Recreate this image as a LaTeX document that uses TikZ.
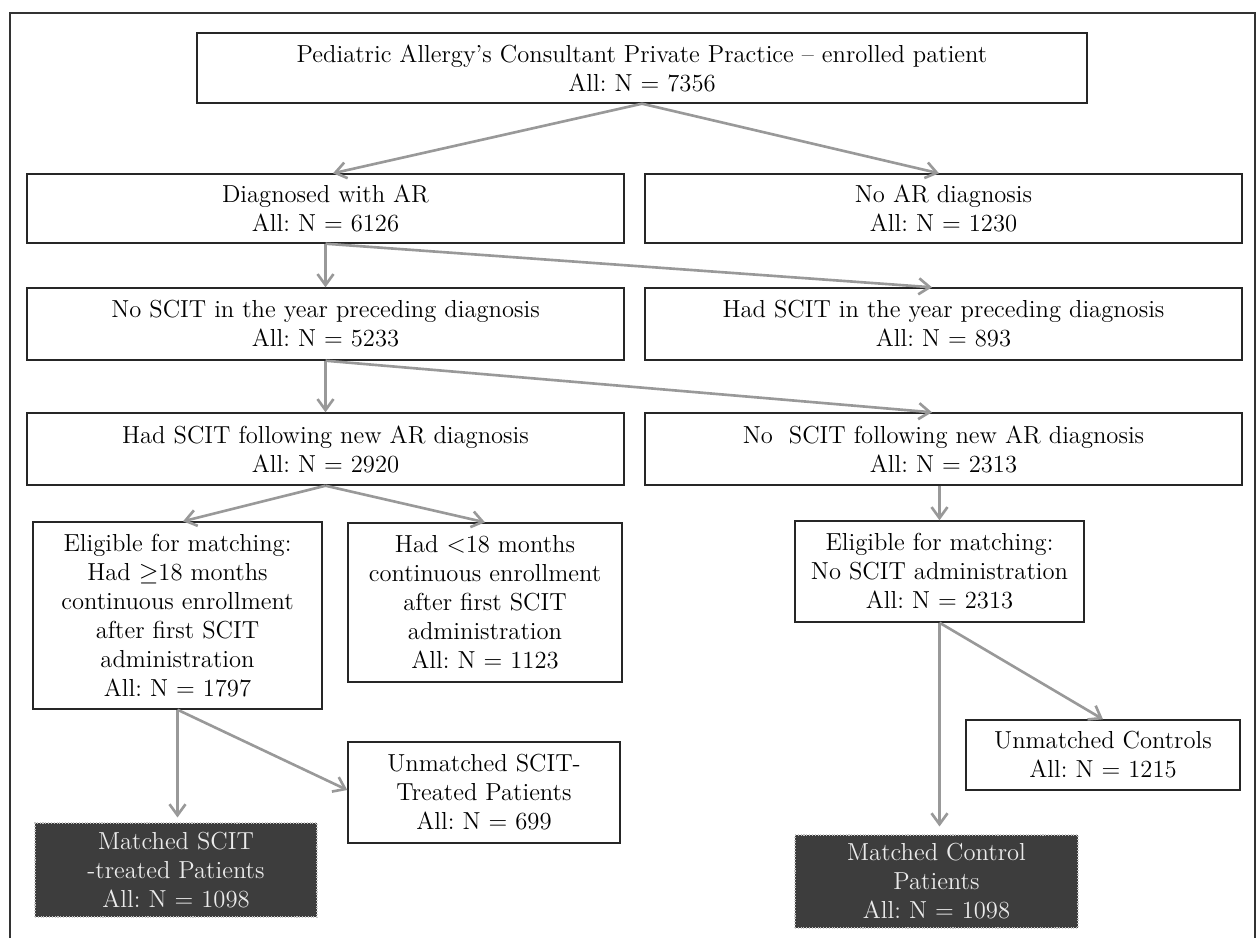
\documentclass[tikz,border=0pt]{standalone}
\usepackage{tikz}
\usetikzlibrary{calc}
\usetikzlibrary{arrows.meta}
\frenchspacing
\tikzset{w/.style={draw=black!85, line width=0.8pt, fill=white, align=center, inner sep=2pt, font=\fontsize{14}{16.5}\selectfont},
        d/.style={draw=gray!45, densely dotted, line width=0.6pt, fill=black!76, text=white!92!black, align=center, inner sep=2pt, font=\fontsize{14}{16.5}\selectfont},
        ar/.style={draw=black!40, line width=1.5pt, -{Straight Barb[length=2.2mm, width=3.2mm]}}}

\begin{document}
\begin{tikzpicture}
    \useasboundingbox (0,0) rectangle (25.2,-18.76);
    \draw[line width=1.2pt, black!80] (0.2,-18.76) -- (0.2,-0.26) -- (25.1,-0.26) -- (25.1,-18.76);

    % top and the two columns
    \node (top) at (12.84,-1.36) [w, minimum width=17.8cm, minimum height=1.4cm] {Pediatric Allergy's Consultant Private Practice -- enrolled patient\\All: N = 7356};

    \node (diag) at (6.51,-4.17) [w, minimum width=11.94cm, minimum height=1.38cm] {Diagnosed with AR\\All: N = 6126};
    \node (noar) at (18.87,-4.17) [w, minimum width=11.94cm, minimum height=1.38cm] {No AR diagnosis\\All: N = 1230};

    \node (noscit) at (6.51,-6.48) [w, minimum width=11.94cm, minimum height=1.44cm] {No SCIT in the year preceding diagnosis\\All: N = 5233};
    \node (hadscit) at (18.87,-6.48) [w, minimum width=11.94cm, minimum height=1.44cm] {Had SCIT in the year preceding diagnosis\\All: N = 893};

    \node (hadfol) at (6.51,-8.98) [w, minimum width=11.94cm, minimum height=1.44cm] {Had SCIT following new AR diagnosis\\All: N = 2920};
    \node (nofol) at (18.87,-8.98) [w, minimum width=11.94cm, minimum height=1.44cm] {No~ SCIT following new AR diagnosis\\All: N = 2313};

    % lower boxes
    \node (elig) at (3.55,-12.31) [w, minimum width=5.78cm, minimum height=3.74cm] {Eligible for matching:\\Had $\geq$18 months\\continuous enrollment\\after first SCIT\\administration\\All: N = 1797};
    \node (less) at (9.70,-12.05) [w, minimum width=5.48cm, minimum height=3.18cm] {Had $<$18 months\\continuous enrollment\\after first SCIT\\administration\\All: N = 1123};
    \node (eligc) at (18.79,-11.43) [w, minimum width=5.78cm, minimum height=2.02cm] {Eligible for matching:\\No SCIT administration\\All: N = 2313};

    \node (unms) at (9.68,-15.85) [w, minimum width=5.44cm, minimum height=2.02cm] {Unmatched SCIT-\\Treated Patients\\All: N = 699};
    \node (unmc) at (22.06,-15.10) [w, minimum width=5.48cm, minimum height=1.40cm] {Unmatched Controls\\All: N = 1215};

    \node (mats) at (3.52,-17.40) [d, minimum width=5.64cm, minimum height=1.88cm] {Matched SCIT\\-treated Patients\\All: N = 1098};
    \node (matc) at (18.73,-17.63) [d, minimum width=5.66cm, minimum height=1.86cm] {Matched Control\\Patients\\All: N = 1098};

    % arrows
    \draw[ar] (top.south) -- ([xshift=0.15cm]diag.north);
    \draw[ar] (top.south) -- ([xshift=-0.09cm]noar.north);
    \draw[ar] (diag.south) -- (noscit.north);
    \draw[ar] (diag.south) -- ([xshift=-0.23cm]hadscit.north);
    \draw[ar] (noscit.south) -- (hadfol.north);
    \draw[ar] (noscit.south) -- ([xshift=-0.23cm]nofol.north);
    \draw[ar] (hadfol.south) -- ([xshift=0.11cm]elig.north);
    \draw[ar] (hadfol.south) -- (less.north);
    \draw[ar] (eligc.north |- nofol.south) -- (eligc.north);
    \draw[ar, shorten >=0.1cm] (elig.south) -- (elig.south |- mats.north);
    \draw[ar] (elig.south) -- ([yshift=0.05cm]unms.west);
    \draw[ar, shorten >=0.16cm] (eligc.south) -- (eligc.south |- matc.north);
    \draw[ar] (eligc.south) -- (unmc.north);
\end{tikzpicture}
\end{document}
